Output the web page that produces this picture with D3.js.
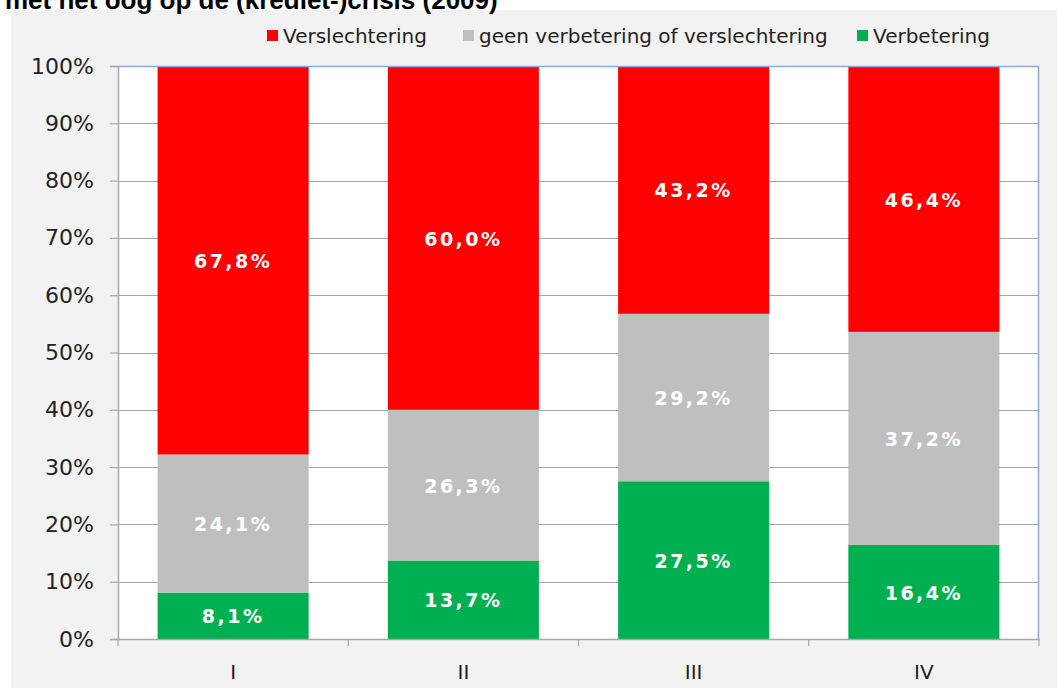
<!DOCTYPE html>
<html lang="nl">
<head>
<meta charset="UTF-8">
<title>Verbetering / verslechtering</title>
<script src="https://d3js.org/d3.v7.min.js"></script>
<style>
  body { margin: 0; background: #fff; }
  svg { display: block; }
</style>
</head>
<body>
<script>
  // data
  const categories = ['I', 'II', 'III', 'IV'];
  const verbetering = [8.1, 13.7, 27.5, 16.4];
  const geen = [24.1, 26.3, 29.2, 37.2];
  const verslechtering = [67.8, 60.0, 43.2, 46.4];
  const yTicks = [0, 0.1, 0.2, 0.3, 0.4, 0.5, 0.6, 0.7, 0.8, 0.9, 1];

  const seriesKeys = ['verbetering', 'geen', 'verslechtering'];
  const seriesNames = {
    verslechtering: 'Verslechtering',
    geen: 'geen verbetering of verslechtering',
    verbetering: 'Verbetering'
  };
  const colours = { verslechtering: '#ff0000', geen: '#bfbfbf', verbetering: '#00b050' };

  const rows = categories.map((c, i) => ({
    cat: c, verbetering: verbetering[i], geen: geen[i], verslechtering: verslechtering[i]
  }));

  const width = 1057, height = 688;
  const plot = { left: 118, right: 1039, top: 66, bottom: 639 };

  const svg = d3.select('body').append('svg').attr('width', width).attr('height', height);

  // chart area background
  svg.append('rect').attr('x', 11).attr('y', 10).attr('width', width - 11).attr('height', height - 10)
    .attr('fill', '#f2f2f2');

  // title, cut off at the top like in the source
  svg.append('text').attr('x', 5).attr('y', 9)
    .attr('font-family', 'Liberation Sans, Arial, sans-serif').attr('font-weight', 'bold')
    .attr('font-size', 26).attr('fill', '#000')
    .text('met het oog op de (krediet-)crisis (2009)');

  const x = d3.scaleBand().domain(categories).range([plot.left, plot.right]).paddingInner(0.344).paddingOuter(0.172);
  const y = d3.scaleLinear().domain([0, 1]).range([plot.bottom, plot.top]);

  svg.append('rect').attr('x', plot.left).attr('y', plot.top)
    .attr('width', plot.right - plot.left).attr('height', plot.bottom - plot.top).attr('fill', '#fff');

  // gridlines
  svg.append('g').selectAll('line').data(yTicks.slice(1)).join('line')
    .attr('x1', plot.left).attr('x2', plot.right)
    .attr('y1', d => Math.round(y(d)) + 0.5).attr('y2', d => Math.round(y(d)) + 0.5)
    .attr('stroke', '#a6a6a6').attr('stroke-width', 1.2);

  const stack = d3.stack().keys(seriesKeys).offset(d3.stackOffsetExpand);
  const stacked = stack(rows);

  const layers = svg.append('g').selectAll('g').data(stacked).join('g')
    .attr('fill', d => colours[d.key]);

  layers.selectAll('rect').data(d => d).join('rect')
    .attr('x', d => x(d.data.cat))
    .attr('width', x.bandwidth())
    .attr('y', d => y(d[1]))
    .attr('height', d => y(d[0]) - y(d[1]));

  // value labels
  const fmt = v => v.toFixed(1).replace('.', ',') + '%';
  svg.append('g').selectAll('g').data(stacked).join('g')
    .each(function (layer) {
      d3.select(this).selectAll('text').data(layer).join('text')
        .attr('x', d => x(d.data.cat) + x.bandwidth() / 2)
        .attr('y', d => (y(d[0]) + y(d[1])) / 2)
        .attr('dy', '0.4em')
        .attr('text-anchor', 'middle')
        .attr('font-family', 'DejaVu Sans, Verdana, sans-serif').attr('font-weight', 'bold')
        .attr('font-size', 19).attr('letter-spacing', 2.5)
        .attr('fill', '#fff')
        .text(d => fmt(d.data[layer.key]));
    });

  // plot border (top and right)
  svg.append('path')
    .attr('d', `M${plot.left},${plot.top + 0.5}H${plot.right - 0.5}V${plot.bottom}`)
    .attr('fill', 'none').attr('stroke', '#8eaadb').attr('stroke-width', 1.5);

  // y axis
  const yAxis = svg.append('g').attr('transform', `translate(${plot.left},0)`)
    .call(d3.axisLeft(y).tickValues(yTicks).tickFormat(d3.format('.0%')).tickSize(8).tickPadding(16));
  yAxis.select('.domain').attr('stroke', '#a6a6a6').attr('stroke-width', 1.5);
  yAxis.selectAll('.tick line').attr('stroke', '#a6a6a6').attr('stroke-width', 1.2);
  yAxis.selectAll('text').attr('font-family', 'DejaVu Sans, Verdana, sans-serif')
    .attr('font-size', 22).attr('fill', '#222');

  // x axis
  const xAxis = svg.append('g').attr('transform', `translate(0,${plot.bottom})`)
    .call(d3.axisBottom(x).tickSize(0).tickPadding(26));
  xAxis.select('.domain').attr('stroke', '#a6a6a6').attr('stroke-width', 1.5);
  xAxis.selectAll('text').attr('font-family', 'DejaVu Sans, Verdana, sans-serif')
    .attr('font-size', 20).attr('fill', '#222');
  // tick marks between categories
  const bounds = categories.map(c => x(c) - x.step() * x.paddingInner() / 2).concat([plot.right]);
  xAxis.selectAll('line.sep').data(bounds).join('line').attr('class', 'sep')
    .attr('x1', d => d).attr('x2', d => d).attr('y1', 0).attr('y2', 7)
    .attr('stroke', '#a6a6a6').attr('stroke-width', 1.2);

  // legend
  const legendOrder = ['verslechtering', 'geen', 'verbetering'];
  const legendX = [267, 463, 857];
  const legend = svg.append('g').selectAll('g').data(legendOrder).join('g')
    .attr('transform', (d, i) => `translate(${legendX[i]},30)`);
  legend.append('rect').attr('width', 11).attr('height', 11).attr('fill', d => colours[d]);
  legend.append('text').attr('x', 16).attr('y', 13)
    .attr('font-family', 'DejaVu Sans, Verdana, sans-serif').attr('font-size', 20).attr('fill', '#222')
    .text(d => seriesNames[d]);
</script>
</body>
</html>
